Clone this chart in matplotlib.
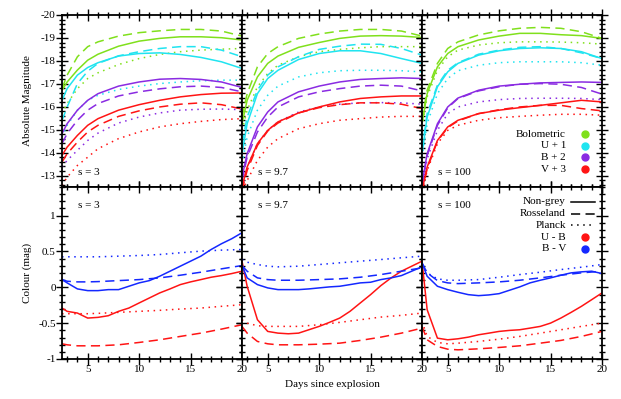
import matplotlib.pyplot as plt
from matplotlib.ticker import MultipleLocator

plt.rcParams['font.family'] = ['Liberation Serif', 'DejaVu Serif']
plt.rcParams['font.size'] = 8
plt.rcParams['axes.unicode_minus'] = False

# sample days for the curves
days = [2.5, 3, 4, 5, 6, 8, 10, 12, 14, 16, 18, 20]
days_fine = [2.5, 3, 4, 5, 6, 7, 8, 9, 10, 11, 12, 13, 14, 15, 16, 17, 18, 19, 20]

panel_names = ["s = 3", "s = 9.7", "s = 100"]

# ---- absolute magnitudes (offset bands), s = 3
bol_ng_s3 = [-16.72, -17.08, -17.60, -18.03, -18.29, -18.64, -18.86, -18.98, -19.05, -19.05, -19.01, -18.91]
bol_ro_s3 = [-16.79, -17.38, -18.18, -18.62, -18.83, -19.08, -19.23, -19.31, -19.37, -19.37, -19.30, -19.08]
bol_pl_s3 = [-15.70, -16.14, -16.79, -17.23, -17.48, -17.84, -18.10, -18.28, -18.40, -18.47, -18.51, -18.54]
u_ng_s3 = [-16.28, -16.79, -17.38, -17.71, -17.92, -18.21, -18.32, -18.35, -18.28, -18.15, -17.96, -17.67]
u_ro_s3 = [-15.40, -15.99, -17.01, -17.55, -17.89, -18.22, -18.40, -18.54, -18.62, -18.62, -18.47, -18.18]
u_pl_s3 = [-14.68, -15.19, -15.85, -16.28, -16.50, -16.75, -16.90, -17.01, -17.08, -17.13, -17.16, -17.16]
b_ng_s3 = [-14.83, -15.26, -15.85, -16.28, -16.57, -16.90, -17.08, -17.20, -17.23, -17.19, -17.08, -16.84]
b_ro_s3 = [-14.39, -14.83, -15.41, -15.85, -16.14, -16.47, -16.65, -16.78, -16.87, -16.90, -16.84, -16.65]
b_pl_s3 = [-13.37, -13.66, -14.10, -14.53, -14.85, -15.29, -15.55, -15.73, -15.85, -15.89, -15.90, -15.87]
v_ng_s3 = [-13.88, -14.24, -14.75, -15.19, -15.48, -15.85, -16.09, -16.28, -16.43, -16.53, -16.59, -16.60]
v_ro_s3 = [-13.59, -13.95, -14.46, -14.90, -15.19, -15.58, -15.82, -15.99, -16.11, -16.17, -16.09, -15.90]
v_pl_s3 = [-12.57, -12.93, -13.44, -13.80, -14.17, -14.61, -14.90, -15.12, -15.26, -15.36, -15.44, -15.48]

# s = 9.7
bol_ng_s97 = [-15.26, -16.28, -17.30, -17.89, -18.21, -18.59, -18.80, -18.98, -19.08, -19.10, -19.08, -19.02]
bol_ro_s97 = [-15.55, -16.57, -17.74, -18.32, -18.62, -18.98, -19.17, -19.30, -19.37, -19.37, -19.30, -19.08]
bol_pl_s97 = [-14.97, -15.85, -16.87, -17.45, -17.81, -18.18, -18.40, -18.50, -18.57, -18.62, -18.62, -18.62]
u_ng_s97 = [-13.95, -15.26, -16.57, -17.23, -17.59, -18.06, -18.32, -18.44, -18.44, -18.32, -18.10, -17.89]
u_ro_s97 = [-14.39, -15.55, -16.72, -17.38, -17.74, -18.18, -18.50, -18.64, -18.73, -18.72, -18.54, -18.25]
u_pl_s97 = [-13.51, -14.68, -15.85, -16.50, -16.90, -17.30, -17.48, -17.57, -17.59, -17.59, -17.57, -17.52]
b_ng_s97 = [-12.93, -13.95, -15.12, -15.77, -16.21, -16.65, -16.90, -17.08, -17.19, -17.23, -17.26, -17.23]
b_ro_s97 = [-12.78, -13.80, -14.90, -15.55, -15.99, -16.43, -16.65, -16.79, -16.90, -16.94, -16.90, -16.69]
b_pl_s97 = [-12.49, -13.37, -14.39, -14.97, -15.34, -15.77, -15.99, -16.11, -16.17, -16.18, -16.17, -16.11]
v_ng_s97 = [-12.49, -13.37, -14.39, -14.97, -15.34, -15.73, -15.99, -16.21, -16.36, -16.43, -16.47, -16.47]
v_ro_s97 = [-12.35, -13.22, -14.31, -14.94, -15.29, -15.73, -15.96, -16.09, -16.17, -16.17, -16.11, -15.92]
v_pl_s97 = [-12.35, -12.78, -13.66, -14.24, -14.61, -15.04, -15.26, -15.41, -15.48, -15.55, -15.58, -15.58]

# s = 100
bol_ng_s100 = [-15.26, -16.57, -17.74, -18.32, -18.62, -18.91, -19.08, -19.20, -19.20, -19.14, -19.10, -18.98]
bol_ro_s100 = [-15.41, -16.72, -17.89, -18.54, -18.83, -19.13, -19.31, -19.42, -19.46, -19.42, -19.27, -18.98]
bol_pl_s100 = [-15.12, -16.43, -17.59, -18.18, -18.47, -18.69, -18.79, -18.83, -18.83, -18.82, -18.79, -18.73]
u_ng_s100 = [-13.95, -15.55, -16.87, -17.52, -17.89, -18.25, -18.44, -18.54, -18.57, -18.54, -18.40, -18.10]
u_ro_s100 = [-14.10, -15.70, -16.94, -17.59, -17.92, -18.29, -18.47, -18.59, -18.62, -18.54, -18.35, -18.10]
u_pl_s100 = [-13.80, -15.26, -16.57, -17.23, -17.57, -17.81, -17.92, -17.96, -17.96, -17.96, -17.92, -17.81]
b_ng_s100 = [-12.64, -13.95, -15.26, -15.99, -16.38, -16.72, -16.90, -16.98, -17.04, -17.06, -17.08, -17.06]
b_ro_s100 = [-12.57, -13.88, -15.19, -15.95, -16.36, -16.69, -16.87, -16.98, -17.01, -16.98, -16.84, -16.55]
b_pl_s100 = [-12.49, -13.73, -14.97, -15.70, -15.99, -16.21, -16.31, -16.36, -16.37, -16.37, -16.36, -16.31]
v_ng_s100 = [-12.35, -13.37, -14.53, -15.12, -15.41, -15.70, -15.85, -15.96, -16.06, -16.17, -16.28, -16.21]
v_ro_s100 = [-12.27, -13.29, -14.50, -15.09, -15.38, -15.70, -15.87, -15.99, -16.06, -16.06, -15.92, -15.82]
v_pl_s100 = [-12.27, -13.22, -14.39, -14.97, -15.19, -15.41, -15.52, -15.58, -15.63, -15.67, -15.67, -15.63]

# ---- colours; non-grey on days_fine, the rest on days
bv_ng_s3 = [0.108, 0.062, -0.022, -0.046, -0.046, -0.032, -0.032, 0.015, 0.062, 0.094, 0.155, 0.225, 0.295, 0.365, 0.435, 0.528, 0.608, 0.678, 0.762]
ub_ng_s3 = [-0.289, -0.335, -0.359, -0.429, -0.419, -0.396, -0.335, -0.289, -0.218, -0.148, -0.078, -0.022, 0.038, 0.076, 0.108, 0.141, 0.164, 0.192, 0.225]
bv_ro_s3 = [0.108, 0.085, 0.076, 0.076, 0.080, 0.094, 0.108, 0.132, 0.169, 0.211, 0.258, 0.304]
bv_pl_s3 = [0.426, 0.426, 0.426, 0.426, 0.426, 0.435, 0.444, 0.458, 0.482, 0.505, 0.519, 0.528]
ub_ro_s3 = [-0.788, -0.802, -0.816, -0.816, -0.816, -0.802, -0.769, -0.732, -0.685, -0.639, -0.583, -0.522]
ub_pl_s3 = [-0.368, -0.368, -0.368, -0.368, -0.363, -0.349, -0.335, -0.321, -0.303, -0.289, -0.265, -0.242]

bv_ng_s97 = [0.304, 0.132, 0.038, -0.008, -0.032, -0.032, -0.032, -0.022, -0.008, 0.006, 0.015, 0.038, 0.062, 0.071, 0.108, 0.132, 0.164, 0.225, 0.286]
ub_ng_s97 = [0.365, 0.015, -0.452, -0.615, -0.639, -0.648, -0.639, -0.592, -0.545, -0.489, -0.429, -0.335, -0.218, -0.102, 0.024, 0.132, 0.225, 0.295, 0.365]
bv_ro_s97 = [0.304, 0.225, 0.132, 0.108, 0.099, 0.099, 0.108, 0.118, 0.141, 0.178, 0.225, 0.272]
bv_pl_s97 = [0.388, 0.351, 0.318, 0.295, 0.286, 0.295, 0.318, 0.342, 0.365, 0.388, 0.412, 0.435]
ub_ro_s97 = [-0.545, -0.639, -0.755, -0.788, -0.802, -0.802, -0.793, -0.779, -0.741, -0.695, -0.639, -0.569]
ub_pl_s97 = [-0.452, -0.499, -0.536, -0.545, -0.545, -0.545, -0.522, -0.489, -0.452, -0.415, -0.391, -0.359]

bv_ng_s100 = [0.342, 0.155, 0.015, -0.032, -0.069, -0.102, -0.116, -0.106, -0.088, -0.041, 0.006, 0.062, 0.099, 0.132, 0.169, 0.202, 0.216, 0.225, 0.192]
ub_ng_s100 = [0.365, -0.312, -0.709, -0.732, -0.718, -0.695, -0.662, -0.639, -0.615, -0.601, -0.592, -0.569, -0.545, -0.499, -0.429, -0.349, -0.265, -0.172, -0.078]
bv_ro_s100 = [0.342, 0.202, 0.094, 0.062, 0.052, 0.062, 0.076, 0.099, 0.132, 0.169, 0.202, 0.225]
bv_pl_s100 = [0.318, 0.202, 0.118, 0.099, 0.099, 0.108, 0.141, 0.178, 0.211, 0.248, 0.281, 0.318]
ub_ro_s100 = [-0.545, -0.732, -0.825, -0.863, -0.872, -0.858, -0.839, -0.816, -0.779, -0.741, -0.685, -0.615]
ub_pl_s100 = [-0.475, -0.685, -0.769, -0.788, -0.779, -0.755, -0.723, -0.685, -0.639, -0.592, -0.545, -0.499]

c_bol = '#80e01c'
c_u = '#20e4f0'
c_b = '#8a2be2'
c_v = '#ff1414'
c_bv = '#1428ff'

dash = (0, (6, 3.5))
dot = (0, (1, 3))
styles = ['-', dash, dot]

mags = [
    [(bol_ng_s3, bol_ro_s3, bol_pl_s3), (u_ng_s3, u_ro_s3, u_pl_s3), (b_ng_s3, b_ro_s3, b_pl_s3), (v_ng_s3, v_ro_s3, v_pl_s3)],
    [(bol_ng_s97, bol_ro_s97, bol_pl_s97), (u_ng_s97, u_ro_s97, u_pl_s97), (b_ng_s97, b_ro_s97, b_pl_s97), (v_ng_s97, v_ro_s97, v_pl_s97)],
    [(bol_ng_s100, bol_ro_s100, bol_pl_s100), (u_ng_s100, u_ro_s100, u_pl_s100), (b_ng_s100, b_ro_s100, b_pl_s100), (v_ng_s100, v_ro_s100, v_pl_s100)],
]
band_colors = [c_bol, c_u, c_b, c_v]

cols = [
    [(ub_ng_s3, ub_ro_s3, ub_pl_s3), (bv_ng_s3, bv_ro_s3, bv_pl_s3)],
    [(ub_ng_s97, ub_ro_s97, ub_pl_s97), (bv_ng_s97, bv_ro_s97, bv_pl_s97)],
    [(ub_ng_s100, ub_ro_s100, ub_pl_s100), (bv_ng_s100, bv_ro_s100, bv_pl_s100)],
]
col_colors = [c_v, c_bv]


def style_axis(ax):
    for sp in ax.spines.values():
        sp.set_linewidth(1.3)
    ax.tick_params(which='both', direction='inout', top=True, right=True, width=1.0, pad=0.5)
    ax.tick_params(which='major', length=8)
    ax.tick_params(which='minor', length=5)
    ax.xaxis.set_major_locator(MultipleLocator(5))
    ax.xaxis.set_minor_locator(MultipleLocator(1))
    ax.set_xlim(2.5, 20)


fig = plt.figure(figsize=(6.21, 3.99), dpi=100)
left = 62 / 621
pw = 180 / 621
top_b = 1 - 187 / 399
ph = 172 / 399
bot_b = 1 - 359 / 399

lw = 1.1
for i in range(3):
    ax = fig.add_axes([left + i * pw, top_b, pw, ph])
    for band, color in zip(mags[i], band_colors):
        for vals, ls in zip(band, styles):
            ax.plot(days, vals, color=color, ls=ls, lw=lw)
    style_axis(ax)
    ax.set_ylim(-12.5, -20)
    ax.yaxis.set_major_locator(MultipleLocator(1))
    ax.yaxis.set_minor_locator(MultipleLocator(0.2))
    ax.set_xticklabels([])
    if i == 0:
        ax.set_ylabel("Absolute Magnitude")
        ax.yaxis.set_label_coords(-0.167, 0.5)
    else:
        ax.set_yticklabels([])
    ax.text(0.087, 0.087, panel_names[i], transform=ax.transAxes, va='center', ha='left')

    if i == 2:
        for k, (lab, color) in enumerate(zip(["Bolometric", "U + 1", "B + 2", "V + 3"], band_colors)):
            yy = 0.308 - k * 0.068
            ax.text(0.80, yy, lab, transform=ax.transAxes, ha='right', va='center')
            ax.plot([0.906], [yy], 'o', color=color, ms=5, transform=ax.transAxes)

    ax = fig.add_axes([left + i * pw, bot_b, pw, ph])
    for pair, color in zip(cols[i], col_colors):
        ax.plot(days_fine, pair[0], color=color, ls='-', lw=lw)
        ax.plot(days, pair[1], color=color, ls=dash, lw=lw)
        ax.plot(days, pair[2], color=color, ls=dot, lw=lw)
    style_axis(ax)
    ax.set_ylim(-1, 1.4)
    ax.yaxis.set_major_locator(MultipleLocator(0.5))
    ax.yaxis.set_minor_locator(MultipleLocator(0.1))
    ax.set_yticks([-1, -0.5, 0, 0.5, 1])
    if i == 0:
        ax.set_yticklabels(["-1", "-0.5", "0", "0.5", "1"])
        ax.set_ylabel("Colour (mag)")
        ax.yaxis.set_label_coords(-0.167, 0.5)
    else:
        ax.set_yticklabels([])
    ax.set_xticks([5, 10, 15, 20])
    ax.set_xticklabels(["5", "10", "15", "20"])
    if i == 1:
        ax.set_xlabel("Days since explosion", labelpad=4)
    ax.text(0.087, 0.89, panel_names[i], transform=ax.transAxes, va='center', ha='left')

    if i == 2:
        for k, (lab, ls) in enumerate(zip(["Non-grey", "Rosseland", "Planck"], styles)):
            yy = 0.913 - k * 0.068
            ax.text(0.80, yy, lab, transform=ax.transAxes, ha='right', va='center')
            ax.plot([0.828, 0.961], [yy, yy], color='black', ls=ls, lw=lw, transform=ax.transAxes)
        for k, (lab, color) in enumerate(zip(["U - B", "B - V"], col_colors)):
            yy = 0.913 - (k + 3) * 0.068
            ax.text(0.80, yy, lab, transform=ax.transAxes, ha='right', va='center')
            ax.plot([0.906], [yy], 'o', color=color, ms=5, transform=ax.transAxes)

fig.savefig("out.png", dpi=100)
